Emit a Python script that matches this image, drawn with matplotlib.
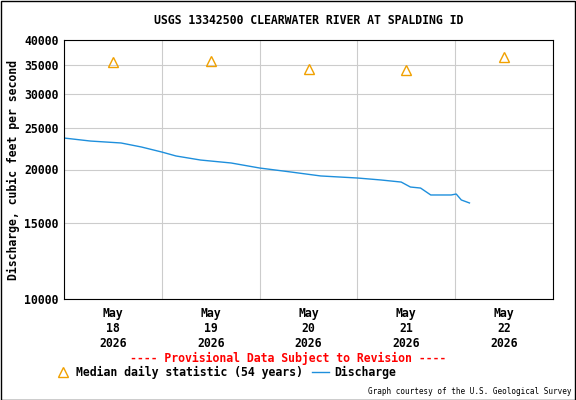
import matplotlib
matplotlib.use("Agg")
import matplotlib.pyplot as plt
import matplotlib.dates as mdates
import matplotlib.ticker as mticker
import pandas as pd
from matplotlib.lines import Line2D

plt.rcParams['font.family'] = ['DejaVu Sans Mono']

q_times = ["2026-05-18 00:00","2026-05-18 06:30","2026-05-18 14:00","2026-05-18 19:00",
           "2026-05-19 00:00","2026-05-19 03:30","2026-05-19 09:30","2026-05-19 17:00",
           "2026-05-20 00:00","2026-05-20 07:45","2026-05-20 15:00","2026-05-21 00:00",
           "2026-05-21 05:45","2026-05-21 10:45","2026-05-21 13:00","2026-05-21 15:30",
           "2026-05-21 18:00","2026-05-21 23:00","2026-05-22 00:15","2026-05-22 01:30",
           "2026-05-22 03:30"]
q_vals = [23670,23290,23050,22560,21960,21500,21040,20710,20160,19730,19320,19110,
          18910,18700,18210,18110,17450,17450,17540,16990,16720]
med_times = ["2026-05-18 12:00","2026-05-19 12:00","2026-05-20 12:00","2026-05-21 12:00","2026-05-22 12:00"]
med_vals = [35500, 35700, 34300, 34000, 36500]
y_ticks = [10000,15000,20000,25000,30000,35000,40000]

qt = pd.to_datetime(q_times)
mt = pd.to_datetime(med_times)
FS = 8.3
fig = plt.figure(figsize=(5.76,4.0), dpi=100)
fig.patch.set_facecolor('white')
ax = fig.add_axes([64/576, 101/400, 489/576, 259/400])
ax.set_yscale('log')
ax.set_ylim(10000, 40000)
ax.set_xlim(pd.Timestamp("2026-05-18"), pd.Timestamp("2026-05-23"))
ax.plot(qt, q_vals, color='#1e8fdc', lw=1)
ax.plot(mt, med_vals, linestyle='none', marker='^', ms=7, mfc='none', mec='#f0a000', mew=1)

ax.yaxis.set_major_locator(mticker.FixedLocator(y_ticks))
ax.yaxis.set_minor_locator(mticker.NullLocator())
ax.yaxis.set_major_formatter(mticker.FixedFormatter([str(v) for v in y_ticks]))
ax.xaxis.set_major_locator(mdates.DayLocator())
ax.xaxis.set_major_formatter(mticker.NullFormatter())
ax.xaxis.set_minor_locator(mdates.HourLocator(byhour=[12]))
ax.xaxis.set_minor_formatter(mdates.DateFormatter('May\n%d\n%Y'))
ax.tick_params(axis='x', which='minor', length=0, labelsize=FS, pad=6)
ax.tick_params(axis='x', which='major', length=0)
ax.tick_params(axis='y', labelsize=FS, length=0, pad=4)
for lab in ax.get_xticklabels(minor=True)+ax.get_yticklabels():
    lab.set_fontweight('bold')
ax.grid(True, which='major', color='#cccccc', lw=0.8)
ax.set_axisbelow(True)
ax.set_ylabel('Discharge, cubic feet per second', fontsize=FS, fontweight='bold', labelpad=3)

fig.text(0.5+(309-288)/576, 1-20/400, 'USGS 13342500 CLEARWATER RIVER AT SPALDING ID', ha='center', va='center', fontsize=FS, fontweight='bold')
fig.text(0.5, 1-358/400, '---- Provisional Data Subject to Revision ----', ha='center', va='center', color='red', fontsize=FS, fontweight='bold')
h = [Line2D([],[],linestyle='none',marker='^',ms=7,mfc='none',mec='#f0a000'),
     Line2D([],[],color='#1e8fdc',lw=1)]
fig.legend(h, ['Median daily statistic (54 years)','Discharge'], loc='center left',
           bbox_to_anchor=(54/576, 1-372/400), ncol=2, frameon=False,
           handlelength=1.5, handletextpad=0.4, columnspacing=0.8,
           prop={'weight':'bold','size':FS}, borderaxespad=0, borderpad=0)
fig.text(1-4/576, 1-391/400, 'Graph courtesy of the U.S. Geological Survey', ha='right', va='center', fontsize=5.5)
fig.add_artist(plt.Rectangle((0.001,0.001),0.997,0.997, transform=fig.transFigure, fill=False, ec='black', lw=1))
fig.savefig('out.png', dpi=100)
